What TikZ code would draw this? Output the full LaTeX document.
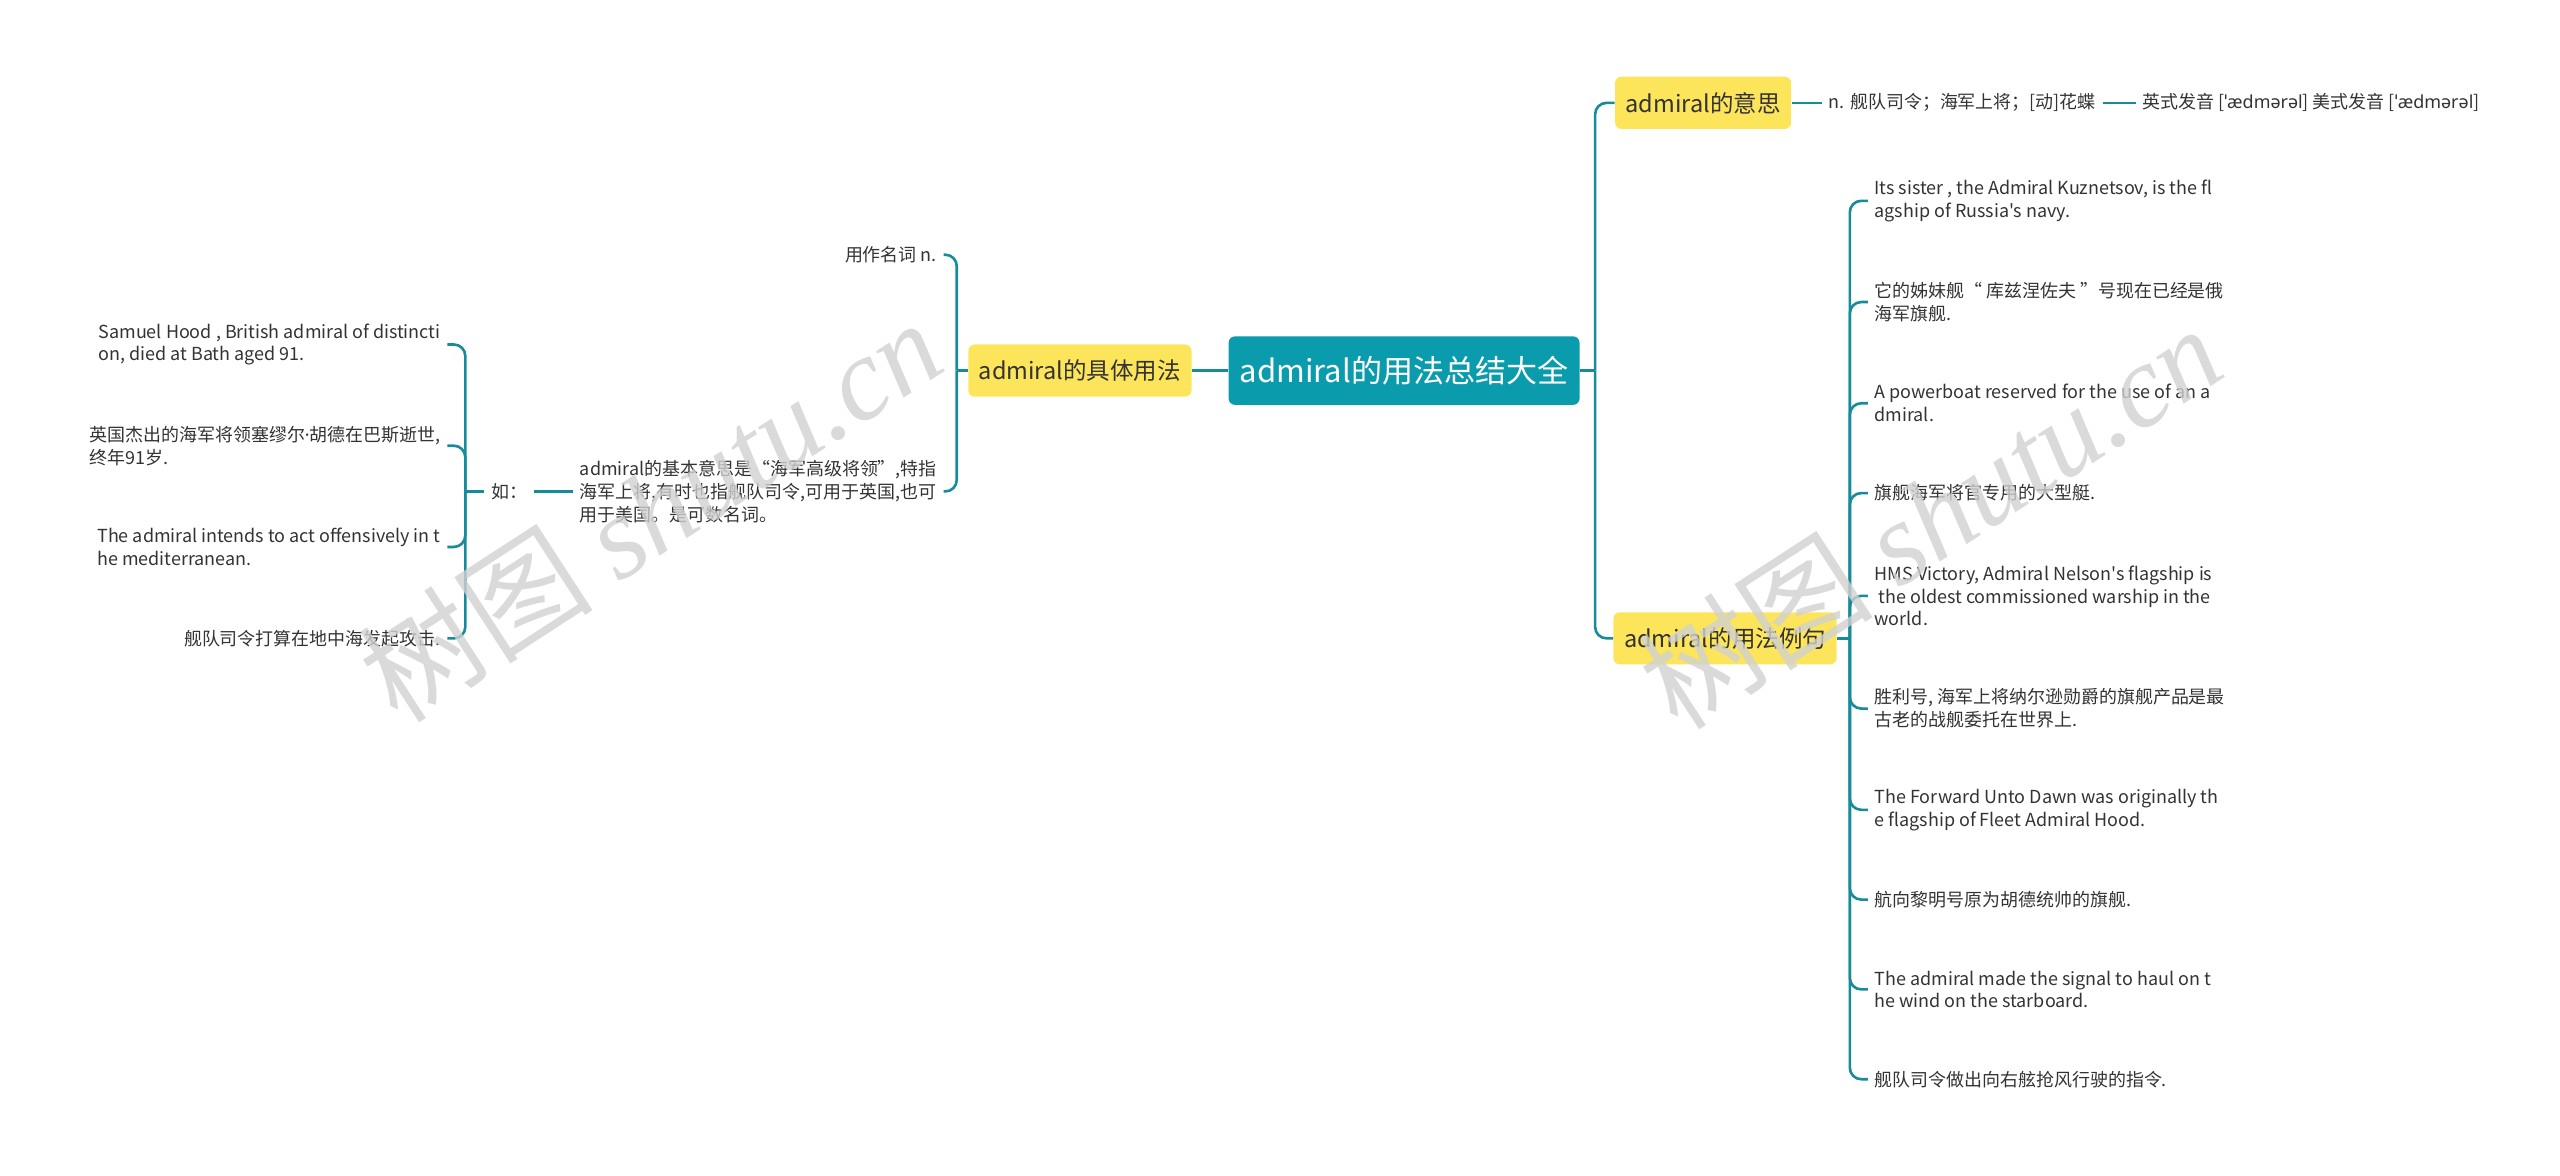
\documentclass[tikz,border=0pt]{standalone}
\usepackage{fontspec}
\setmainfont{Noto Sans CJK SC}[Ligatures=TeXOff]
\newfontfamily\ipafont{Noto Sans}
\newfontfamily\markfont{Liberation Serif}
\usepackage{tikz}
\definecolor{rootteal}{HTML}{0A9BAD}
\definecolor{linkteal}{HTML}{168C9A}
\definecolor{noteyellow}{HTML}{FDE55B}
\definecolor{leafgray}{HTML}{333333}

\begin{document}
\begin{tikzpicture}[x=1pt, y=-1pt,
    root/.style={fill=rootteal, rounded corners=4pt, text=white, font=\fontsize{19}{22}\selectfont, minimum width=215pt, minimum height=42pt},
    topic/.style={fill=noteyellow, rounded corners=4pt, text=leafgray, font=\fontsize{14.4}{17}\selectfont, minimum height=32pt, inner xsep=6.5pt},
    leaf/.style={text=leafgray, font=\fontsize{11}{14}\selectfont, align=left, inner xsep=4pt, inner ysep=1pt},
    link/.style={draw=linkteal, line width=1.6pt, rounded corners=7pt},
    wmark/.style={text=black!18, opacity=0.8, font=\fontsize{72}{72}\selectfont, rotate=33}]
    \useasboundingbox (0, 0) rectangle (1568, 720);

    \node[root] at (860, 227) (root) {admiral的用法总结大全};
    \node[topic, anchor=east] at (730, 227) (usage) {admiral的具体用法};
    \node[topic, anchor=west] at (989, 63) (meaning) {admiral的意思};
    \node[topic, anchor=west] at (988, 391) (examples) {admiral的用法例句};

    % meaning
    \node[leaf, anchor=west] at (1116, 63) (sense) {n. 舰队司令；海军上将；[动]花蝶};
    \node[leaf, anchor=west] at (1308, 63) (sound) {英式发音 [{\ipafont ˈædmərəl}] 美式发音 [{\ipafont ˈædmərəl}]};

    % examples
    \node[leaf, anchor=west] at (1144, 123) (ex1) {Its sister , the Admiral Kuznetsov, is the fl\\agship of Russia's navy.};
    \node[leaf, anchor=west] at (1144, 185) (ex2) {它的姊妹舰“ 库兹涅佐夫 ”号现在已经是俄\\海军旗舰.};
    \node[leaf, anchor=west] at (1144, 247) (ex3) {A powerboat reserved for the use of an a\\dmiral.};
    \node[leaf, anchor=west] at (1144, 302) (ex4) {旗舰海军将官专用的大型艇.};
    \node[leaf, anchor=west] at (1144, 365) (ex5) {HMS Victory, Admiral Nelson's flagship is\\\ the oldest commissioned warship in the\\world.};
    \node[leaf, anchor=west] at (1144, 434) (ex6) {胜利号, 海军上将纳尔逊勋爵的旗舰产品是最\\古老的战舰委托在世界上.};
    \node[leaf, anchor=west] at (1144, 496) (ex7) {The Forward Unto Dawn was originally th\\e flagship of Fleet Admiral Hood.};
    \node[leaf, anchor=west] at (1144, 551) (ex8) {航向黎明号原为胡德统帅的旗舰.};
    \node[leaf, anchor=west] at (1144, 606) (ex9) {The admiral made the signal to haul on t\\he wind on the starboard.};
    \node[leaf, anchor=west] at (1144, 661) (ex10) {舰队司令做出向右舷抢风行驶的指令.};

    % usage
    \node[leaf, anchor=east] at (578, 156) (asnoun) {用作名词 n.};
    \node[leaf, anchor=east] at (578, 301) (basic) {admiral的基本意思是“海军高级将领”,特指\\海军上将,有时也指舰队司令,可用于英国,也可\\用于美国。是可数名词。};
    \node[leaf, anchor=east] at (327, 301) (such) {如：};
    \node[leaf, anchor=east] at (274, 211) (hood) {Samuel Hood , British admiral of distincti\\on, died at Bath aged 91.};
    \node[leaf, anchor=east] at (274, 273) (hoodcn) {英国杰出的海军将领塞缪尔{\ipafont ·}胡德在巴斯逝世,\\终年91岁.};
    \node[leaf, anchor=east] at (274, 335) (intend) {The admiral intends to act offensively in t\\he mediterranean.};
    \node[leaf, anchor=east] at (274, 391) (intendcn) {舰队司令打算在地中海发起攻击.};

    \coordinate (rootfork) at (977, 227);
    \coordinate (exfork) at (1133, 391);
    \coordinate (usefork) at (586, 227);
    \coordinate (suchfork) at (285, 301);

    \draw[link] (root) -- (rootfork);
    \draw[link] (rootfork) |- (meaning.west);
    \draw[link] (rootfork) |- (examples.west);
    \draw[link] (meaning) -- (sense);
    \draw[link] (sense) -- (sound);
    \draw[link] (examples) -- (exfork);
    \foreach \n in {1,...,10}
        \draw[link] (exfork) |- (ex\n.west);

    \draw[link] (root) -- (usage);
    \draw[link] (usage) -- (usefork);
    \draw[link] (usefork) |- (asnoun.east);
    \draw[link] (usefork) |- (basic.east);
    \draw[link] (basic) -- (such);
    \draw[link] (such) -- (suchfork);
    \foreach \leafname in {hood, hoodcn, intend, intendcn}
        \draw[link] (suchfork) |- (\leafname.east);

    \node[wmark] at (398, 312) (markleft) {树图 {\markfont\itshape shutu.cn}};
    \node[wmark] at (1182, 316) (markright) {树图 {\markfont\itshape shutu.cn}};
\end{tikzpicture}
\end{document}
